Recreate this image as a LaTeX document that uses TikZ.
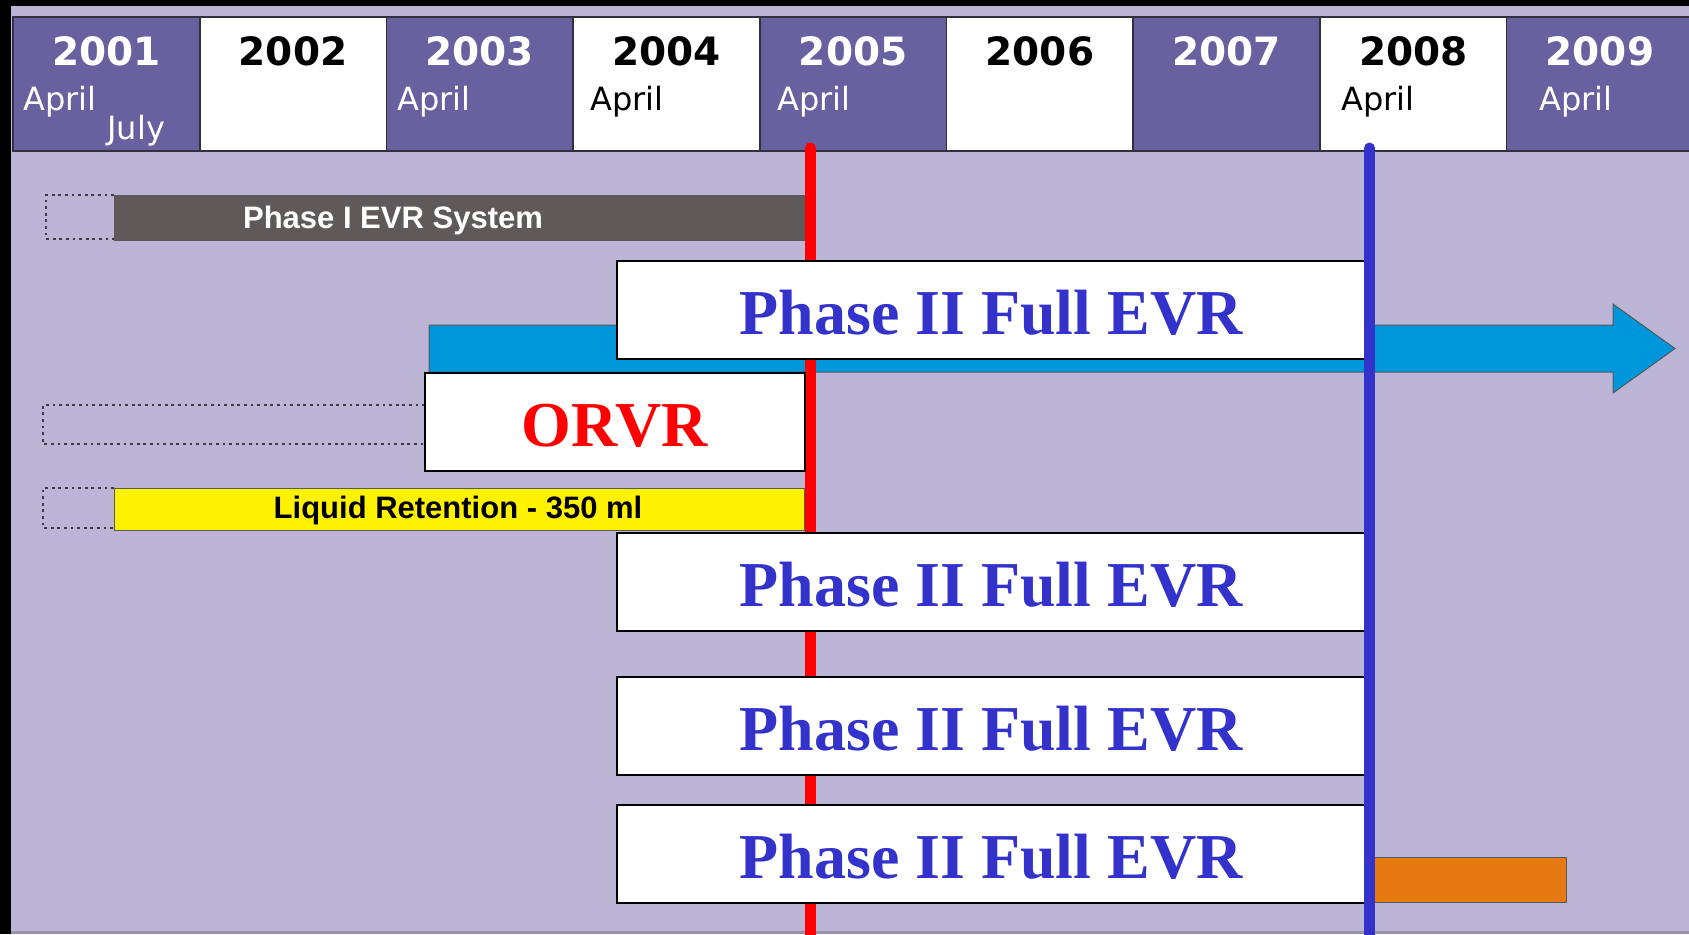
\documentclass[tikz,border=0pt]{standalone}
\usepackage{fontspec}
\setmainfont{Liberation Serif}
\newfontfamily\hdrfont{DejaVu Sans}
\newfontfamily\barfont{Liberation Sans}
\usetikzlibrary{positioning}

\definecolor{lavender}{RGB}{189,181,214}
\definecolor{hdrpurple}{RGB}{104,97,160}
\definecolor{hdrline}{RGB}{50,48,60}
\definecolor{phasegray}{RGB}{96,89,89}
\definecolor{arrowblue}{RGB}{0,150,220}
\definecolor{evrblue}{RGB}{51,51,204}
\definecolor{barorange}{RGB}{229,122,18}
\definecolor{dotgray}{RGB}{60,60,70}

\begin{document}
\begin{tikzpicture}[x=0.5pt,y=-0.5pt,
    year cell/.style={draw=hdrline,line width=0.8pt,anchor=north west,
        minimum width=93.35pt,minimum height=67pt,inner sep=0pt,outer sep=0pt},
    year text/.style={anchor=base,inner sep=0pt,
        font=\hdrfont\bfseries\fontsize{19.5}{20}\selectfont},
    month text/.style={anchor=base west,inner sep=0pt,
        font=\hdrfont\fontsize{16}{16}\selectfont},
    bar/.style={draw=black!65,line width=0.5pt,anchor=north west,
        minimum height=22.5pt,inner sep=0pt,outer sep=0pt},
    bar text/.style={anchor=base,inner sep=0pt,
        font=\barfont\bfseries\fontsize{15.5}{16}\selectfont},
    dotframe/.style={draw=dotgray,line width=1.4pt,dash pattern=on 1.4pt off 1.9pt},
    evr box/.style={draw=black,line width=1pt,fill=white,outer sep=0pt,
        minimum width=374pt,minimum height=49pt,text=evrblue,
        text height=24pt,text depth=0pt,
        font=\bfseries\fontsize{32}{32}\selectfont},
    marker line/.style={line width=5.5pt,line cap=round}]

    \useasboundingbox (0,0) rectangle (1689,934);

    % Background
    \fill[black] (0,0) rectangle (1689,934);
    \fill[lavender] (11,6) rectangle (1689,934);
    \fill[lavender!80!black] (11,931) rectangle (1689,934);

    % Year header
    \foreach \yr/\cellfill/\ink [count=\i from 0] in {2001/hdrpurple/white,
        2002/white/black,2003/hdrpurple/white,2004/white/black,
        2005/hdrpurple/white,2006/white/black,2007/hdrpurple/white,
        2008/white/black,2009/hdrpurple/white}
    {
        \node[year cell,fill=\cellfill] (y\yr) at ({13+186.7*\i},17) {};
        \node[year text,text=\ink] (t\yr) at ([yshift=-24pt]y\yr.north) {\yr};
    }
    \node[month text,text=white] (m2001a) at (23,110) {April};
    \node[month text,text=white] (m2001b) at (107,139) {July};
    \node[month text,text=white] (m2003) at (397,110) {April};
    \node[month text] (m2004) at (590,110) {April};
    \node[month text,text=white] (m2005) at (777,110) {April};
    \node[month text] (m2008) at (1341,110) {April};
    \node[month text,text=white] (m2009) at (1539,110) {April};

    % Earlier periods
    \draw[dotframe] (114,195) -- (46,195) -- (46,239) -- (114,239);
    \draw[dotframe] (425,405) -- (43,405) -- (43,444) -- (425,444);
    \draw[dotframe] (114,488) -- (43,488) -- (43,528) -- (114,528);

    % Bars
    \fill[arrowblue,draw=black!65,line width=0.5pt] (429,325) -- (1613,325)
        -- (1613,304) -- (1675,348.5) -- (1613,393) -- (1613,372)
        -- (429,372) -- cycle;
    \node[bar,fill=phasegray,minimum width=345pt] (phaseone) at (114,195) {};
    \node[bar text,text=white] (phaseonelabel) at (393,228) {Phase I EVR System};
    \node[bar,fill=yellow,minimum width=345pt,minimum height=21pt] (liquid) at (114,488) {};
    \node[bar text,text=black] (liquidlabel) at (458,518) {Liquid Retention - 350 ml};
    \node[bar,fill=barorange,minimum width=100.5pt] (late) at (1365,857) {};

    % April 2005 marker
    \coordinate (redtop) at (810,148);
    \coordinate (redend) at (810,945);
    \draw[marker line,red] (redtop) -- (redend);

    % Boxes
    \node[evr box,minimum width=190pt,text=red] (orvr) at (615,422) {ORVR};
    \node[evr box] (evr1) at (991,310) {Phase II Full EVR};
    \node[evr box] (evr2) [below=87pt of evr1] {Phase II Full EVR};
    \node[evr box] (evr3) [below=23pt of evr2] {Phase II Full EVR};
    \node[evr box] (evr4) [below=15pt of evr3] {Phase II Full EVR};

    % April 2008 marker
    \coordinate (bluetop) at (1369.5,148);
    \coordinate (blueend) at (1369.5,945);
    \draw[marker line,evrblue] (bluetop) -- (blueend);

\end{tikzpicture}
\end{document}
